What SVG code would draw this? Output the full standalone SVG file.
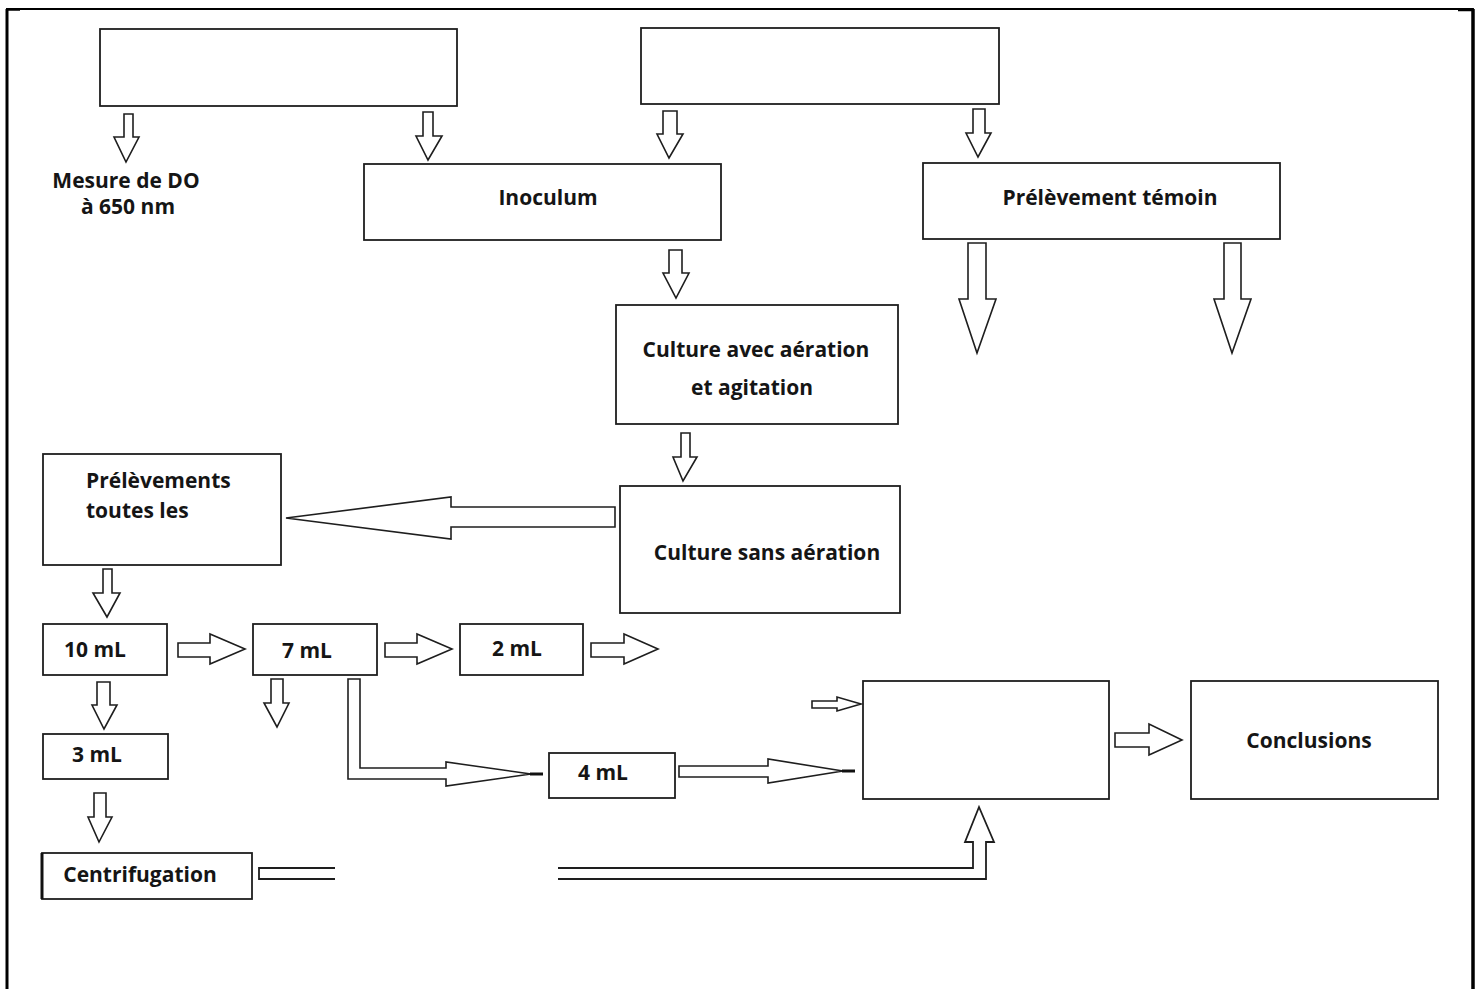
<svg xmlns="http://www.w3.org/2000/svg" width="1480" height="989" viewBox="0 0 1480 989">
<style>
.box{fill:#fff;stroke:#1e1e1e;stroke-width:1.8}
.arr{fill:#fff;stroke:#1e1e1e;stroke-width:1.6;stroke-linejoin:miter}
.ln{fill:none;stroke:#1e1e1e;stroke-width:1.8}
.stub{stroke:#111;stroke-width:3}
text{font-family:"Open Sans",Lato,"Liberation Sans",sans-serif;font-weight:700;font-size:21px;fill:#151515}
</style>
<rect width="1480" height="989" fill="#fff"/>
<g id="frame">
<path d="M7,989 V9 H1473 V989" fill="none" stroke="#000" stroke-width="1.8"/>
<line x1="7" y1="9" x2="7" y2="989" stroke="#000" stroke-width="3"/>
<line x1="1473" y1="9" x2="1473" y2="989" stroke="#000" stroke-width="3.5"/>
<line x1="6" y1="9.5" x2="20" y2="9.5" stroke="#000" stroke-width="2.5"/>
<line x1="1458" y1="10" x2="1474" y2="10" stroke="#000" stroke-width="2.5"/>
</g>
<g id="boxA"><rect class="box" x="100" y="29" width="357" height="77"/></g>
<g id="boxB"><rect class="box" x="641" y="28" width="358" height="76"/></g>
<g id="mesure"><text x="126" y="188" text-anchor="middle">Mesure de DO</text><text x="128" y="214" text-anchor="middle">à 650 nm</text></g>
<g id="inoculum"><rect class="box" x="364" y="164" width="357" height="76"/><text x="548" y="205" text-anchor="middle">Inoculum</text></g>
<g id="temoin"><rect class="box" x="923" y="163" width="357" height="76"/><text x="1110" y="205" text-anchor="middle">Prélèvement témoin</text></g>
<g id="cultureAvec"><rect class="box" x="616" y="305" width="282" height="119"/><text x="756" y="357" text-anchor="middle">Culture avec aération</text><text x="752" y="395" text-anchor="middle">et agitation</text></g>
<g id="cultureSans"><rect class="box" x="620" y="486" width="280" height="127"/><text x="767" y="560" text-anchor="middle">Culture sans aération</text></g>
<g id="prelevements"><rect class="box" x="43" y="454" width="238" height="111"/><text x="86" y="488">Prélèvements</text><text x="86" y="518">toutes les</text></g>
<g id="ml10"><rect class="box" x="43" y="624" width="124" height="51"/><text x="95" y="657" text-anchor="middle">10 mL</text></g>
<g id="ml7"><rect class="box" x="253" y="624" width="124" height="51"/><text x="307" y="658" text-anchor="middle">7 mL</text></g>
<g id="ml2"><rect class="box" x="460" y="624" width="123" height="51"/><text x="517" y="656" text-anchor="middle">2 mL</text></g>
<g id="ml3"><rect class="box" x="43" y="734" width="125" height="45"/><text x="97" y="762" text-anchor="middle">3 mL</text></g>
<g id="ml4"><rect class="box" x="549" y="753" width="126" height="45"/><text x="603" y="780" text-anchor="middle">4 mL</text></g>
<g id="centrifugation"><rect class="box" x="42" y="853" width="210" height="46"/><line x1="42" y1="853" x2="42" y2="899" stroke="#111" stroke-width="3"/><text x="140" y="882" text-anchor="middle">Centrifugation</text></g>
<g id="boxResult"><rect class="box" x="863" y="681" width="246" height="118"/></g>
<g id="conclusions"><rect class="box" x="1191" y="681" width="247" height="118"/><text x="1309" y="748" text-anchor="middle">Conclusions</text></g>
<g id="connectors">
<polygon class="arr" points="124,114 133,114 133,137 139,137 126,162 114,137 124,137"/>
<polygon class="arr" points="423,112 433,112 433,136 442,136 428,160 416,136 423,136"/>
<polygon class="arr" points="663,111 677,111 677,134 683,134 669,158 657,134 663,134"/>
<polygon class="arr" points="973,109 985,109 985,133 991,133 978,157 966,133 973,133"/>
<polygon class="arr" points="669,250 682,250 682,273 689,273 676,298 663,273 669,273"/>
<polygon class="arr" points="968,243 986,243 986,299 996,299 977,353 959,299 968,299"/>
<polygon class="arr" points="1224,243 1241,243 1241,299 1251,299 1232,353 1214,299 1224,299"/>
<polygon class="arr" points="681,433 690,433 690,457 697,457 683,481 673,457 681,457"/>
<polygon class="arr" points="615,507 615,527 451,527 451,539 286,518 451,497 451,507"/>
<polygon class="arr" points="103,569 112,569 112,593 120,593 107,617 93,593 103,593"/>
<polygon class="arr" points="97,682 110,682 110,705 117,705 104,729 92,705 97,705"/>
<polygon class="arr" points="271,679 283,679 283,703 289,703 277,727 264,703 271,703"/>
<polygon class="arr" points="94,793 106,793 106,817 112,817 99,842 88,817 94,817"/>
<polygon class="arr" points="178,643 210,643 210,634 245,649 210,664 210,657 178,657"/>
<polygon class="arr" points="385,643 417,643 417,634 452,649 417,664 417,657 385,657"/>
<polygon class="arr" points="591,643 624,643 624,634 658,649 624,664 624,657 591,657"/>
<polygon class="arr" points="1115,733 1149,733 1149,724 1182,740 1149,755 1149,747 1115,747"/>
<polygon class="arr" points="812,701 837,701 837,697 861,704 837,711 837,708 812,708"/>
<polygon class="arr" points="679,766 768,766 768,759 843,771 768,783 768,777 679,777"/>
<line class="stub" x1="842" y1="771" x2="855" y2="771"/>
<polygon class="arr" points="348,679 360,679 360,768 446,768 446,762 531,774 446,786 446,779 348,779"/>
<line class="stub" x1="530" y1="774" x2="543" y2="774"/>
<path class="ln" d="M335,868 H259 V879 H335"/>
<path class="ln" d="M558,868 H973 V842 H965 L979,807 L994,842 H986 V879 H558"/>
</g>
</svg>
